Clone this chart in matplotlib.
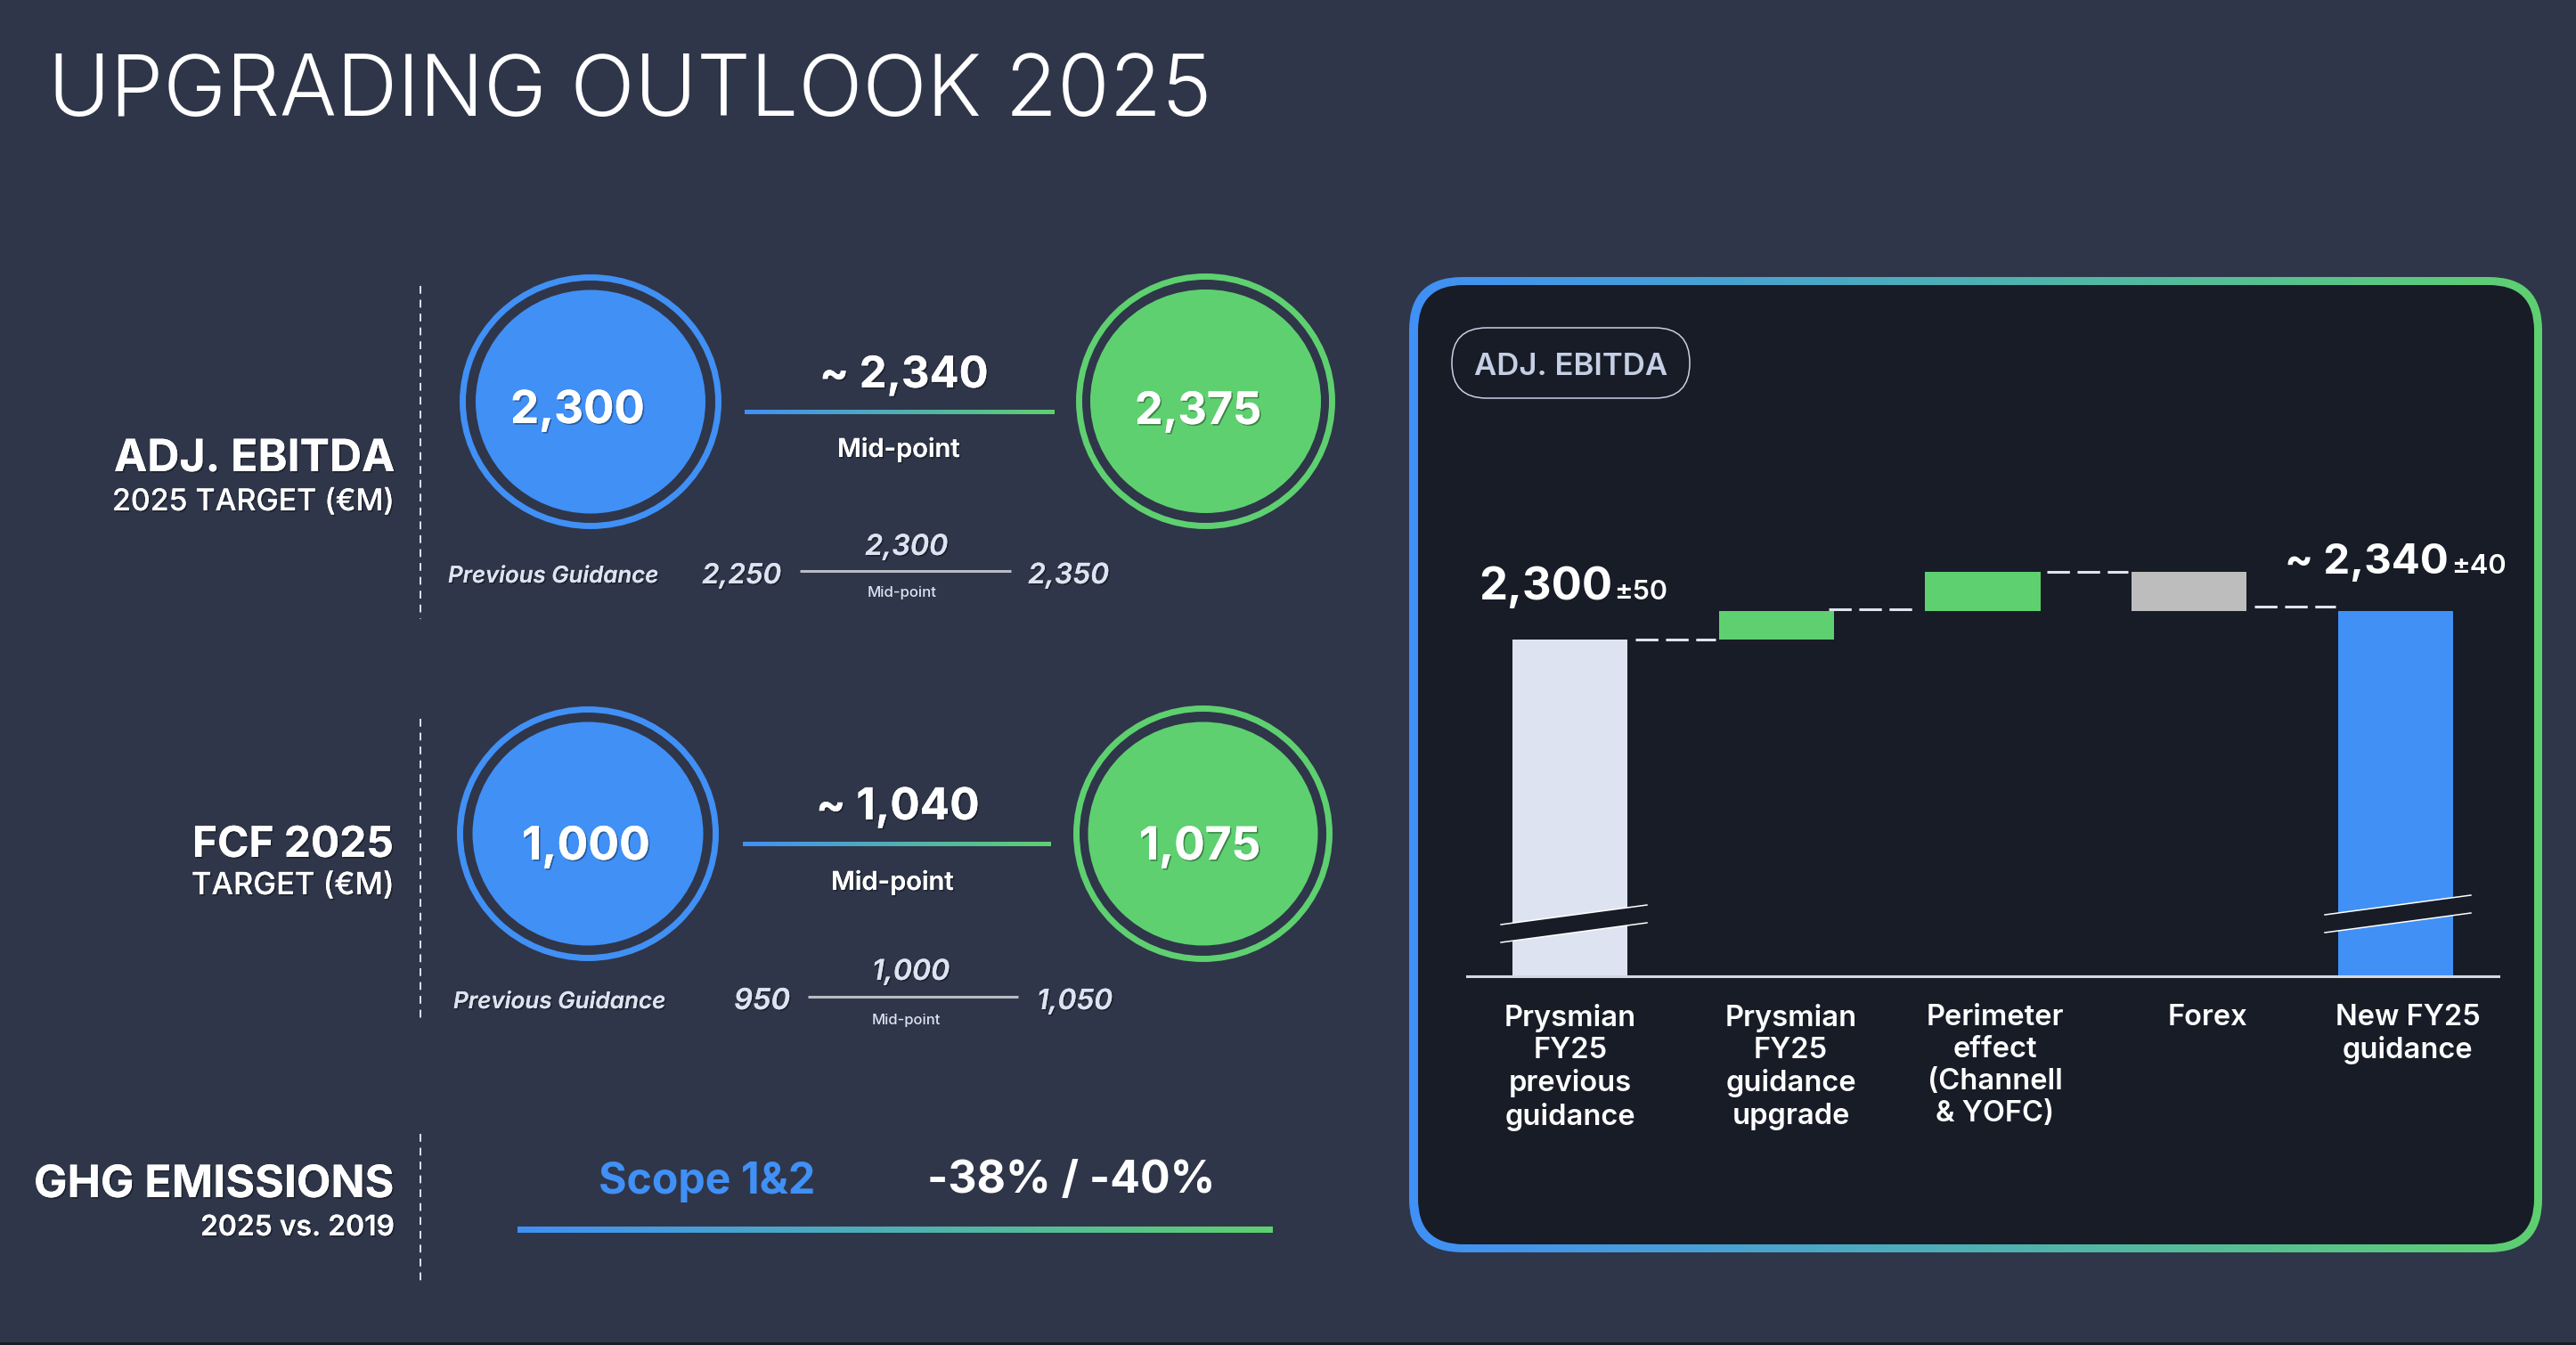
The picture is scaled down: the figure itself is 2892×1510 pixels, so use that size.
import numpy as np
import matplotlib
matplotlib.use("Agg")
import matplotlib.pyplot as plt
from matplotlib.colors import LinearSegmentedColormap
from matplotlib.patches import Ellipse, FancyBboxPatch, Polygon, Rectangle
import matplotlib.patheffects as pe

# ---------- data ----------
waterfall_labels = ["Prysmian\nFY25\nprevious\nguidance", "Prysmian\nFY25\nguidance\nupgrade",
                    "Perimeter\neffect\n(Channell\n& YOFC)", "Forex", "New FY25\nguidance"]
waterfall_bottom = [1828, 2300, 2340, 2340, 1828]
waterfall_top = [2300, 2340, 2395, 2395, 2340]
connector_levels = [2300, 2343, 2396, 2347]
connector_from = [0.317, 1.255, 2.312, 3.317]
connector_to = [0.706, 1.691, 2.705, 3.711]
label_positions = [0.0, 1.07, 2.06, 3.09, 4.06]

# ---------- style ----------
W, H = 2892, 1510
BG, PANEL = "#2f3649", "#181c27"
BLUE, GREEN, PALE, GREY = "#4090f6", "#5ed070", "#dde3f0", "#bdbdbd"
FONT = ["Inter", "DejaVu Sans"]
grad = LinearSegmentedColormap.from_list("g", [BLUE, GREEN])
G = np.linspace(0, 1, 256).reshape(1, -1)

fig = plt.figure(figsize=(W / 100, H / 100), dpi=100, facecolor=BG)
def px_axes(x, y, w, h, z):
    return fig.add_axes([x / W, 1 - (y + h) / H, w / W, h / H], zorder=z)

bg = px_axes(0, 0, W, H, 0)
fg = px_axes(0, 0, W, H, 2)
for a in (bg, fg):
    a.set_xlim(0, W); a.set_ylim(H, 0); a.axis("off"); a.patch.set_alpha(0)
renderer = fig.canvas.get_renderer()

def gradient(ax, x0, x1, y0, y1, clip=None):
    im = ax.imshow(G, cmap=grad, extent=(x0, x1, y1, y0), aspect="auto", interpolation="bilinear")
    ax.set_xlim(0, W); ax.set_ylim(H, 0)
    if clip is not None:
        im.set_clip_path(clip)

def put(x0, x1, base, s, weight=700, color="white", style="normal", shadow=True, ax=None):
    ax = ax or fg
    t = ax.text(x0, base + 2, s, ha="left", va="baseline", color=color, family=FONT,
                fontweight=weight, fontstyle=style, fontsize=20)
    w = t.get_window_extent(renderer).width
    t.set_fontsize(20 * (x1 - x0) / w)
    if shadow:
        t.set_path_effects([pe.withSimplePatchShadow(offset=(1.2, -1.2), shadow_rgbFace="black", alpha=0.35),
                            pe.Normal()])
    return t

# bottom strip
bg.add_patch(Rectangle((0, 1507), W, 3, fc=PANEL, ec="none"))

# title
put(54, 1357, 128, "UPGRADING OUTLOOK 2025", weight=300, shadow=False)

# row labels and dashed separators
for y0, y1 in [(321, 695), (807, 1149), (1273, 1440)]:
    fg.plot([472, 472], [y0, y1], color=PALE, lw=1.4, ls=(0, (4.5, 3.5)))
put(128, 444, 527, "ADJ. EBITDA", 700)
put(126, 443, 571, "2025 TARGET (€M)", 500)
put(216, 442, 960, "FCF 2025", 700)
put(215, 443, 1002, "TARGET (€M)", 500)
put(38, 443, 1342, "GHG EMISSIONS", 700)
put(225, 443, 1385, "2025 vs. 2019", 600)

# circles
def circle(cx, cy, ow, oh, iw, ih, col):
    fg.add_patch(Ellipse((cx, cy), ow - 7, oh - 7, fc="none", ec=col, lw=5))
    fg.add_patch(Ellipse((cx, cy), iw, ih, fc=col, ec="none"))
circle(663, 451, 294, 286, 258, 251, BLUE)
circle(1353.5, 450.5, 291, 287, 259, 251, GREEN)
circle(660, 936, 294, 286, 259, 251, BLUE)
circle(1350.5, 936, 291, 288, 258, 251, GREEN)
put(573, 724, 473, "2,300")
put(1274, 1416, 474, "2,375")
put(586, 730, 963, "1,000")
put(1279, 1415, 963, "1,075")

# mid-point blocks
for x0, x1, y0, y1 in [(836, 1184, 460, 465), (834, 1180, 945, 950), (581, 1429, 1377, 1384)]:
    gradient(fg, x0, x1, y0, y1)
put(920, 1110, 433, "~ 2,340")
put(940, 1078, 511, "Mid-point", 600)
put(916, 1100, 918, "~ 1,040")
put(933, 1071, 997, "Mid-point", 600)

# previous guidance
for x0, x1, y in [(898, 1135, 641), (907, 1143, 1119)]:
    fg.plot([x0, x1], [y, y], color="#b9bcc4", lw=2.2, solid_capstyle="butt")
put(503, 739, 652, "Previous Guidance", 600, PALE, "italic")
put(788, 877, 653, "2,250", 600, PALE, "italic")
put(1154, 1245, 653, "2,350", 600, PALE, "italic")
put(971, 1064, 621, "2,300", 600, PALE, "italic")
put(974, 1052, 668, "Mid-point", 500, PALE, "normal", False)
put(509, 747, 1130, "Previous Guidance", 600, PALE, "italic")
put(824, 887, 1131, "950", 600, PALE, "italic")
put(1164, 1249, 1131, "1,050", 600, PALE, "italic")
put(979, 1066, 1098, "1,000", 600, PALE, "italic")
put(979, 1056, 1148, "Mid-point", 500, PALE, "normal", False)

# GHG
put(672, 916, 1338, "Scope 1&2", 700, BLUE, shadow=False)
put(1041, 1365, 1337, "-38% / -40%", 700, shadow=False)

# panel
outer = FancyBboxPatch((1582, 311), 1272, 1095, boxstyle="round,pad=0,rounding_size=60", fc="none", ec="none")
bg.add_patch(outer)
gradient(bg, 1582, 2854, 311, 1406, clip=outer)
bg.add_patch(FancyBboxPatch((1592, 320), 1253, 1077, boxstyle="round,pad=0,rounding_size=51", fc=PANEL, ec="none", zorder=3))
fg.add_patch(FancyBboxPatch((1630, 368), 267, 79, boxstyle="round,pad=0,rounding_size=39", fc="none", ec="#c8d0e4", lw=1.1))
put(1655, 1872, 419, "ADJ. EBITDA", 600, "#c5cfe5", shadow=False)

# waterfall, from the data
wf = px_axes(1647, 500, 1158, 596, 1)
wf.patch.set_alpha(0)
wf.set_xlim(-0.5, 4.5)
wf.set_ylim(1828, 1828 + 596 / 0.8)
colors = [PALE, GREEN, GREEN, GREY, BLUE]
heights = [t - b for t, b in zip(waterfall_top, waterfall_bottom)]
wf.bar(range(5), heights, bottom=waterfall_bottom, width=0.557, color=colors, linewidth=0)
for x0, x1, lv in zip(connector_from, connector_to, connector_levels):
    wf.plot([x0, x1], [lv, lv], color=PALE, lw=2.2, ls=(0, (8.3, 2.8)))
for s in ("top", "left", "right"):
    wf.spines[s].set_visible(False)
wf.spines["bottom"].set_color("#d5d8e0")
wf.spines["bottom"].set_linewidth(2.2)
wf.set_yticks([])
wf.set_xticks(label_positions, waterfall_labels, color="white", family=FONT, fontweight=600,
              fontsize=23.5, linespacing=1.22)
wf.tick_params(axis="x", length=0, pad=22)

# axis break marks
for x0, x1, a0, a1, b0, b1 in [(1685, 1849, 1038, 1016, 1058, 1036), (2610, 2774, 1027, 1005, 1047, 1025)]:
    fg.add_patch(Polygon([(x0, a0), (x1, a1), (x1, b1), (x0, b0)], fc=PANEL, ec="none"))
    fg.plot([x0, x1], [a0, a1], color="white", lw=1.1)
    fg.plot([x0, x1], [b0, b1], color="white", lw=1.1)

# waterfall value labels
put(1660, 1810, 671, "2,300", shadow=False)
put(1812, 1872, 671, "±50", 600, shadow=False)
put(2565, 2749, 642, "~ 2,340", shadow=False)
put(2752, 2814, 642, "±40", 600, shadow=False)

fig.savefig("out.png", dpi=100, facecolor=BG)
